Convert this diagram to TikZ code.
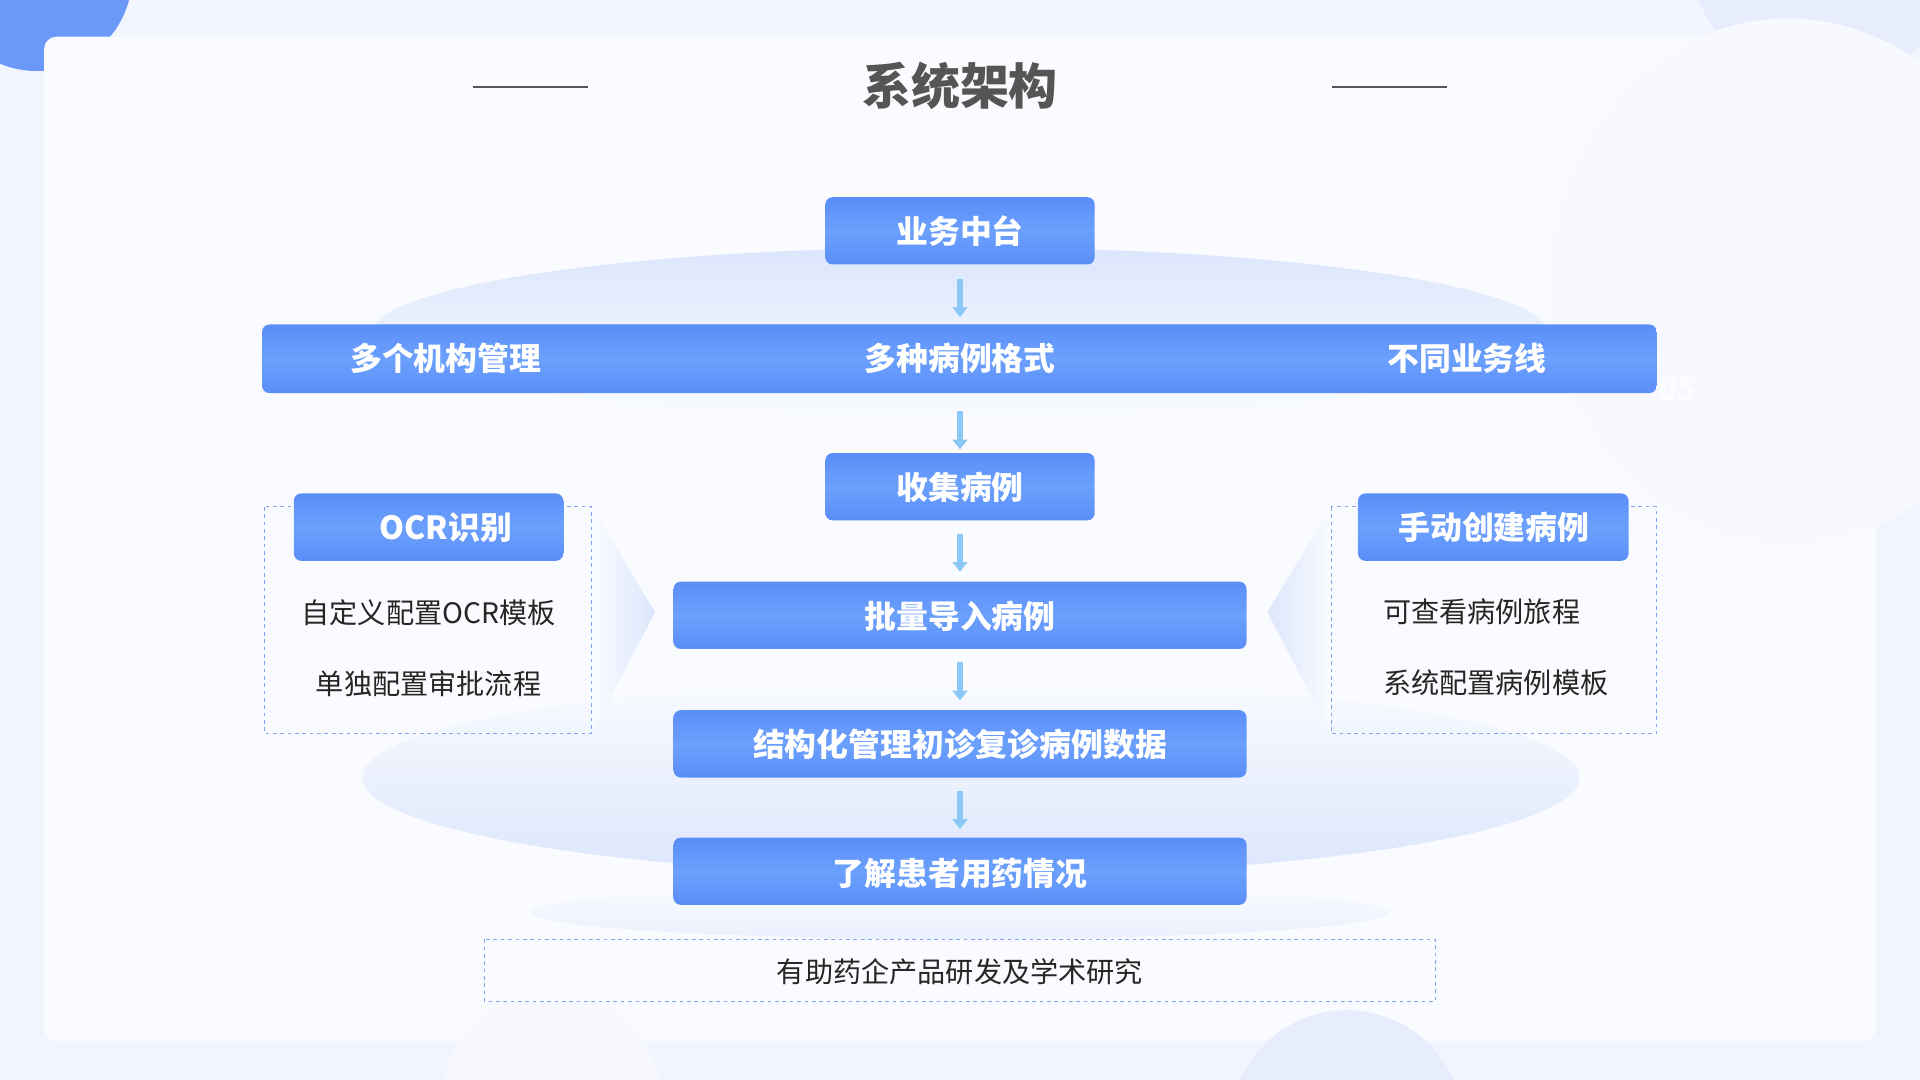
\documentclass[tikz,border=0pt]{standalone}
\usepackage{fontspec}
\setmainfont{Noto Sans CJK SC}
\usetikzlibrary{arrows.meta}
\definecolor{bg}{HTML}{F2F5FD}
\definecolor{card}{HTML}{F9FBFE}
\definecolor{bA}{HTML}{5A8EF8}
\definecolor{bB}{HTML}{6CA0FD}
\definecolor{ell}{HTML}{DCE6FC}
\definecolor{arr}{HTML}{8CC8F5}
\definecolor{dash}{HTML}{7EA6EE}
\definecolor{tt}{HTML}{555555}
\tikzset{
 x=1pt,y=-1pt,
 bluebox/.style={rounded corners=6pt,top color=bA,bottom color=bA,middle color=bB},
 btext/.style={text=white,font=\fontsize{26}{30}\selectfont\bfseries},
 ntext/.style={text=black!85,font=\fontsize{23}{27}\selectfont},
 dbox/.style={draw=dash,dashed,line width=0.8pt},
 darrow/.style={-{Triangle[width=12pt,length=8pt]},line width=5pt,draw=arr},
}
\begin{document}
\begin{tikzpicture}
\useasboundingbox (0,0) rectangle (1568,882);
\fill[bg] (0,0) rectangle (1568,882);
\fill[bA!90] (30,-20) circle (78);
\fill[ell!70] (1490,-40) circle (110);
\fill[card,rounded corners=10pt] (36,30) rectangle (1532,850);
\fill[bg!60] (1460,230) ellipse (195 and 215);
\fill[ell!70] (1100,920) circle (95);
\fill[card!50!bg] (450,900) circle (90);
% ellipses
\shade[top color=ell,bottom color=card] (784,272) ellipse (480 and 70);
\shade[top color=card,bottom color=ell] (793,635) ellipse (497 and 80);
\shade[left color=card,right color=ell] (483,414) -- (535,500) -- (483,599) -- cycle;
\shade[right color=card,left color=ell] (1087,414) -- (1035,500) -- (1087,599) -- cycle;
\shade[top color=card,bottom color=ell!60] (784,745) ellipse (350 and 22);
\node[text=white!80!bg,font=\fontsize{26}{28}\selectfont\bfseries] (n05) at (1370,318) {05};
% title
\node[text=tt,font=\fontsize{40}{46}\selectfont\bfseries] (title) at (784,70) {系统架构};
\draw[tt,line width=1pt] (386,71) coordinate (la) -- (480,71) coordinate (lb);
\draw[tt,line width=1pt] (1088,71) coordinate (lc) -- (1182,71) coordinate (ld);
% boxes
\path[bluebox] (674,161) rectangle (894,216);
\node[btext] (b1) at (784,189) {业务中台};
\path[bluebox] (214,265) rectangle (1353,321);
\node[btext] (b2a) at (364,293) {多个机构管理};
\node[btext] (b2) at (784,293) {多种病例格式};
\node[btext] (b2c) at (1198,293) {不同业务线};
\path[bluebox] (674,370) rectangle (894,425);
\node[btext] (b3) at (784,398) {收集病例};
\path[bluebox] (550,475) rectangle (1018,530);
\node[btext] (b4) at (784,503) {批量导入病例};
\path[bluebox] (550,580) rectangle (1018,635);
\node[btext] (b5) at (784,608) {结构化管理初诊复诊病例数据};
\path[bluebox] (550,684) rectangle (1018,739);
\node[btext] (b6) at (784,713) {了解患者用药情况};
% arrows
\coordinate (a1) at (784,228); \coordinate (a1e) at (784,259);
\coordinate (a2) at (784,336); \coordinate (a2e) at (784,367);
\coordinate (a3) at (784,436); \coordinate (a3e) at (784,467);
\coordinate (a4) at (784,541); \coordinate (a4e) at (784,572);
\coordinate (a5) at (784,646); \coordinate (a5e) at (784,677);
\foreach \s/\e in {a1/a1e,a2/a2e,a3/a3e,a4/a4e,a5/a5e} \draw[darrow] (\s) -- (\e);
% side boxes
\draw[dbox] (216,414) rectangle (483,599);
\path[bluebox] (240,403) rectangle (460,458);
\node[btext] (l0) at (364,431) {OCR识别};
\node[ntext] (l1) at (350,500) {自定义配置OCR模板};
\node[ntext] (l2) at (350,558) {单独配置审批流程};
\draw[dbox] (1087,414) rectangle (1353,599);
\path[bluebox] (1109,403) rectangle (1330,458);
\node[btext] (r0) at (1220,431) {手动创建病例};
\node[ntext,anchor=west] (r1) at (1126,500) {可查看病例旅程};
\node[ntext,anchor=west] (r2) at (1126,558) {系统配置病例模板};
\draw[dbox,fill=card] (396,767) rectangle (1172,818);
\node[ntext] (bt) at (784,794) {有助药企产品研发及学术研究};
\end{tikzpicture}
\end{document}
